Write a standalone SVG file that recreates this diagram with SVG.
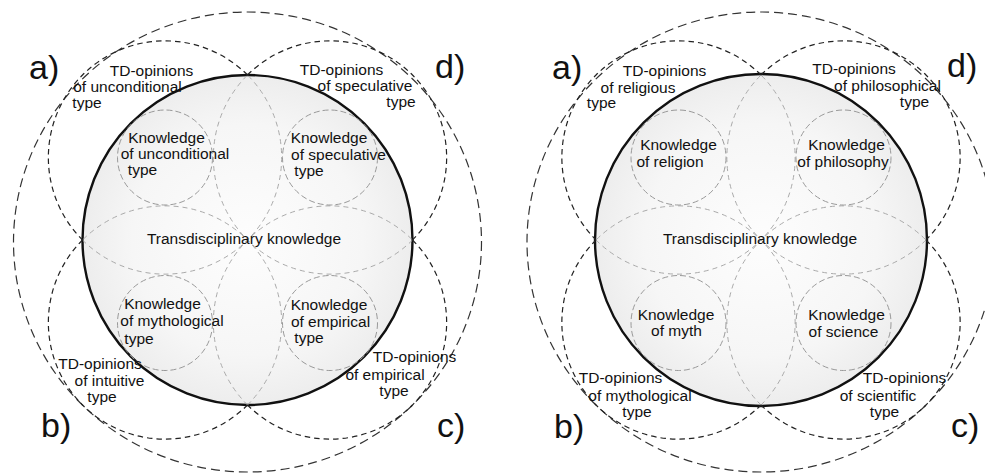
<svg xmlns="http://www.w3.org/2000/svg" width="985" height="474" viewBox="0 0 985 474">
<defs>
<radialGradient id="disk" cx="0.5" cy="0.5" r="0.5">
<stop offset="0" stop-color="#fdfdfd"/>
<stop offset="0.7" stop-color="#f6f6f6"/>
<stop offset="1" stop-color="#ededed"/>
</radialGradient>
</defs>
<style>
.bg{fill:#ffffff}
.main{fill:url(#disk);stroke:#111;stroke-width:2.4}
.outer{fill:none;stroke:#333;stroke-width:1.2;stroke-dasharray:9 5}
.td{fill:none;stroke:#222;stroke-width:1.2;stroke-dasharray:5.5 4}
.in{fill:none;stroke:#aaa;stroke-width:1;stroke-dasharray:5 4}
.kc{fill:none;stroke:#999;stroke-width:1;stroke-dasharray:6 3}
text{font-family:"Liberation Sans",Arial,Helvetica,sans-serif;fill:#111}
.t{font-size:15.5px;text-anchor:middle}
.lab{font-size:34px}
</style>
<rect class="bg" x="0" y="0" width="985" height="474"/>

<g id="diagram-left">
<g id="left-shapes" transform="translate(247.5,240)">
<ellipse id="left-outer" class="outer" cx="0" cy="2" rx="234" ry="230"/>
<circle id="left-main" class="main" cx="0" cy="0" r="165"/>
<g id="left-inner-arcs">
<path class="in" d="M-165,0 A116.67,116.67 0 0 0 0,-165"/>
<path class="in" d="M165,0 A116.67,116.67 0 0 1 0,-165"/>
<path class="in" d="M0,165 A116.67,116.67 0 0 0 -165,0"/>
<path class="in" d="M0,165 A116.67,116.67 0 0 1 165,0"/>
</g>
<g id="left-td-arcs">
<path class="td" d="M0,-165 A116.67,116.67 0 0 0 -165,0"/>
<path class="td" d="M0,-165 A116.67,116.67 0 0 1 165,0"/>
<path class="td" d="M-165,0 A116.67,116.67 0 0 0 0,165"/>
<path class="td" d="M165,0 A116.67,116.67 0 0 1 0,165"/>
</g>
<circle class="kc" cx="-82.5" cy="-82.5" r="47.5"/>
<circle class="kc" cx="82.5" cy="-82.5" r="47.5"/>
<circle class="kc" cx="-82.5" cy="83" r="47.5"/>
<circle class="kc" cx="82.5" cy="83" r="47.5"/>
</g>
<g id="left-center"><text class="t" x="244" y="244">Transdisciplinary knowledge</text></g>
<g id="left-td-a"><text class="t" x="151.5" y="76">TD-opinions</text><text class="t" x="127.5" y="92">of unconditional</text><text class="t" x="87" y="108">type</text></g>
<g id="left-k-a"><text class="t" x="166.5" y="143">Knowledge</text><text class="t" x="175" y="159">of unconditional</text><text class="t" x="142.5" y="175">type</text></g>
<g id="left-td-d"><text class="t" x="341.5" y="75">TD-opinions</text><text class="t" x="365" y="91">of speculative</text><text class="t" x="401" y="107">type</text></g>
<g id="left-k-d"><text class="t" x="329" y="143">Knowledge</text><text class="t" x="338.5" y="160">of speculative</text><text class="t" x="309" y="176">type</text></g>
<g id="left-k-b"><text class="t" x="162.5" y="309">Knowledge</text><text class="t" x="172" y="326">of mythological</text><text class="t" x="139" y="343.5">type</text></g>
<g id="left-td-b"><text class="t" x="100" y="369">TD-opinions</text><text class="t" x="109.5" y="386">of intuitive</text><text class="t" x="102" y="402">type</text></g>
<g id="left-k-c"><text class="t" x="329" y="310">Knowledge</text><text class="t" x="330.5" y="327">of empirical</text><text class="t" x="309" y="343">type</text></g>
<g id="left-td-c"><text class="t" x="414.5" y="362">TD-opinions</text><text class="t" x="385" y="380">of empirical</text><text class="t" x="394" y="396">type</text></g>
<g id="left-labels">
<text class="lab" x="29" y="79">a)</text>
<text class="lab" x="435" y="78">d)</text>
<text class="lab" x="41" y="437">b)</text>
<text class="lab" x="437" y="437">c)</text>
</g>
</g>

<g id="diagram-right">
<g id="right-shapes" transform="translate(761,240)">
<ellipse id="right-outer" class="outer" cx="0" cy="2" rx="234" ry="230"/>
<circle id="right-main" class="main" cx="0" cy="0" r="166"/>
<g id="right-inner-arcs">
<path class="in" d="M-165,0 A116.67,116.67 0 0 0 0,-165"/>
<path class="in" d="M165,0 A116.67,116.67 0 0 1 0,-165"/>
<path class="in" d="M0,165 A116.67,116.67 0 0 0 -165,0"/>
<path class="in" d="M0,165 A116.67,116.67 0 0 1 165,0"/>
</g>
<g id="right-td-arcs">
<path class="td" d="M0,-165 A116.67,116.67 0 0 0 -165,0"/>
<path class="td" d="M0,-165 A116.67,116.67 0 0 1 165,0"/>
<path class="td" d="M-165,0 A116.67,116.67 0 0 0 0,165"/>
<path class="td" d="M165,0 A116.67,116.67 0 0 1 0,165"/>
</g>
<circle class="kc" cx="-82.5" cy="-82.5" r="47.5"/>
<circle class="kc" cx="82.5" cy="-82.5" r="47.5"/>
<circle class="kc" cx="-82.5" cy="83" r="47.5"/>
<circle class="kc" cx="82.5" cy="83" r="47.5"/>
</g>
<g id="right-center"><text class="t" x="760" y="244">Transdisciplinary knowledge</text></g>
<g id="right-td-a"><text class="t" x="664.5" y="76">TD-opinions</text><text class="t" x="638" y="93">of religious</text><text class="t" x="601.5" y="108">type</text></g>
<g id="right-k-a"><text class="t" x="678.5" y="150">Knowledge</text><text class="t" x="670" y="167">of religion</text></g>
<g id="right-td-d"><text class="t" x="854" y="74">TD-opinions</text><text class="t" x="887.5" y="91">of philosophical</text><text class="t" x="914.5" y="107">type</text></g>
<g id="right-k-d"><text class="t" x="846.5" y="150">Knowledge</text><text class="t" x="843" y="167">of philosophy</text></g>
<g id="right-k-b"><text class="t" x="676" y="320">Knowledge</text><text class="t" x="676.5" y="336">of myth</text></g>
<g id="right-td-b"><text class="t" x="620.5" y="383">TD-opinions</text><text class="t" x="640" y="401">of mythological</text><text class="t" x="637" y="417">type</text></g>
<g id="right-k-c"><text class="t" x="846.5" y="320">Knowledge</text><text class="t" x="843.5" y="337">of science</text></g>
<g id="right-td-c"><text class="t" x="904.5" y="383">TD-opinions</text><text class="t" x="878" y="401">of scientific</text><text class="t" x="884.5" y="417">type</text></g>
<g id="right-labels">
<text class="lab" x="552" y="79">a)</text>
<text class="lab" x="947" y="77">d)</text>
<text class="lab" x="554" y="438">b)</text>
<text class="lab" x="951" y="437">c)</text>
</g>
</g>
</svg>
